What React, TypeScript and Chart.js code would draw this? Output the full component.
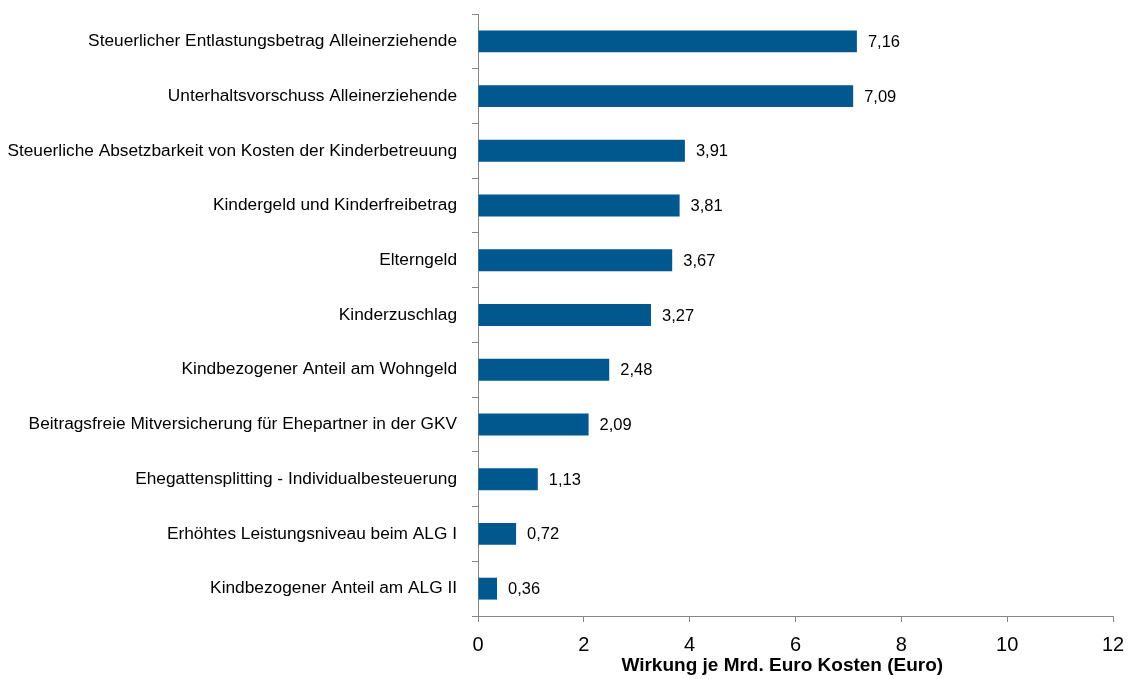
import React, { useEffect, useRef } from "react";
import { Chart, registerables } from "chart.js";

Chart.register(...registerables);

const categories: string[] = [
  "Steuerlicher Entlastungsbetrag Alleinerziehende",
  "Unterhaltsvorschuss Alleinerziehende",
  "Steuerliche Absetzbarkeit von Kosten der Kinderbetreuung",
  "Kindergeld und Kinderfreibetrag",
  "Elterngeld",
  "Kinderzuschlag",
  "Kindbezogener Anteil am Wohngeld",
  "Beitragsfreie Mitversicherung für Ehepartner in der GKV",
  "Ehegattensplitting - Individualbesteuerung",
  "Erhöhtes Leistungsniveau beim ALG I",
  "Kindbezogener Anteil am ALG II",
];

const values: number[] = [7.16, 7.09, 3.91, 3.81, 3.67, 3.27, 2.48, 2.09, 1.13, 0.72, 0.36];

const xMin = 0;
const xMax = 12;
const xStep = 2;
const axisTitle = "Wirkung je Mrd. Euro Kosten (Euro)\u00A0\u00A0\u00A0\u00A0\u00A0";

const FONT = "'Liberation Sans', Arial, sans-serif";
const BAR_COLOR = "#00588F";
const AXIS_COLOR = "#868686";

const fmt = (v: number) => v.toFixed(2).replace(".", ",");

const dataLabelPlugin = {
  id: "dataLabels",
  afterDatasetsDraw(chart: any) {
    const ctx = chart.ctx;
    const meta = chart.getDatasetMeta(0);
    ctx.save();
    ctx.font = `16.5px ${FONT}`;
    ctx.fillStyle = "#000";
    ctx.textAlign = "left";
    ctx.textBaseline = "middle";
    meta.data.forEach((el: any, i: number) => {
      ctx.fillText(fmt(values[i]), el.x + 11, el.y + 1);
    });
    ctx.restore();
  },
};

export default function App() {
  const ref = useRef<HTMLCanvasElement | null>(null);

  useEffect(() => {
    if (!ref.current) return;
    const chart = new Chart(ref.current, {
      type: "bar",
      data: {
        labels: categories,
        datasets: [
          {
            data: values,
            backgroundColor: BAR_COLOR,
            borderWidth: 0,
            barPercentage: 0.4,
            categoryPercentage: 1.0,
          },
        ],
      },
      options: {
        indexAxis: "y",
        responsive: false,
        maintainAspectRatio: false,
        animation: false,
        devicePixelRatio: 1,
        layout: { padding: { left: 0, top: 14, right: 17, bottom: 0 } },
        plugins: {
          legend: { display: false },
          tooltip: { enabled: false },
        },
        scales: {
          x: {
            min: xMin,
            max: xMax,
            ticks: {
              stepSize: xStep,
              color: "#000",
              font: { size: 20, family: FONT },
              padding: 11,
            },
            grid: {
              drawOnChartArea: false,
              drawTicks: true,
              tickLength: 6,
              color: AXIS_COLOR,
            },
            border: { color: AXIS_COLOR, width: 1 },
            title: {
              display: true,
              text: axisTitle,
              color: "#000",
              font: { size: 19, weight: "bold", family: FONT },
              padding: { top: 0, bottom: 2 },
            },
            afterFit: (s: any) => {
              s.height = 63;
              s.paddingLeft = 0;
              s.paddingRight = 0;
            },
          },
          y: {
            ticks: {
              color: "#000",
              font: { size: 17.3, family: FONT },
              padding: 15,
            },
            grid: {
              drawOnChartArea: false,
              drawTicks: true,
              tickLength: 6,
              color: AXIS_COLOR,
              offset: true,
            },
            border: { color: AXIS_COLOR, width: 1 },
            afterFit: (s: any) => {
              s.width = 478;
              s.paddingTop = 0;
              s.paddingBottom = 0;
            },
          },
        },
      },
      plugins: [dataLabelPlugin],
    });
    return () => chart.destroy();
  }, []);

  return (
    <div style={{ position: "absolute", left: 0, top: 0, width: 1130, height: 679, background: "#fff" }}>
      <canvas ref={ref} width={1130} height={679} />
    </div>
  );
}
